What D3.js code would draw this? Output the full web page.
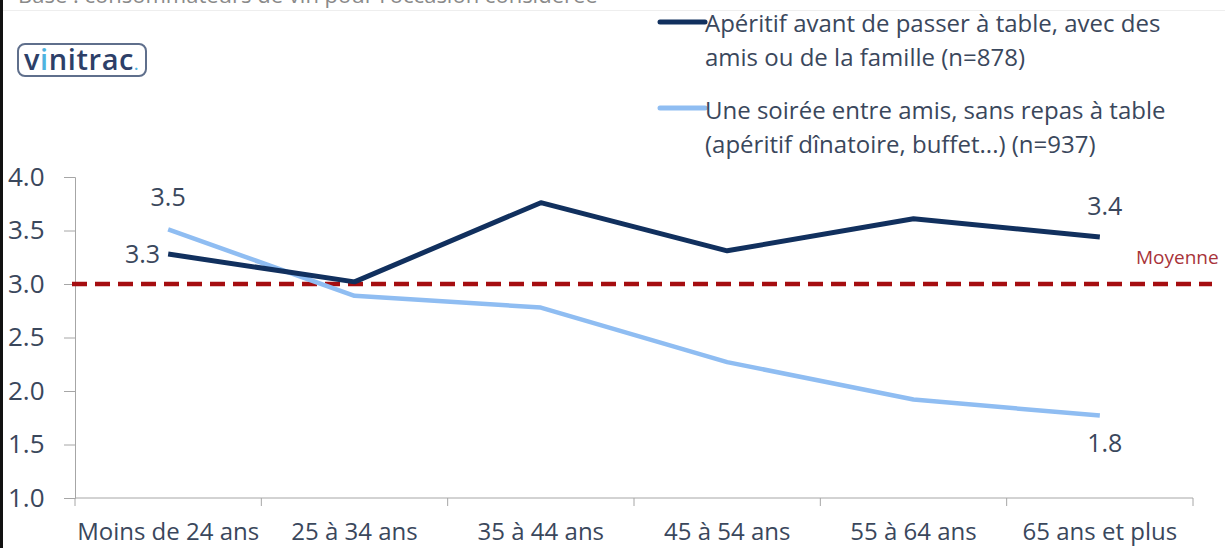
<!DOCTYPE html>
<html>
<head>
<meta charset="utf-8">
<script src="https://cdn.jsdelivr.net/npm/d3@7"></script>
<style>
  html, body { margin: 0; padding: 0; background: #fff; }
  svg { display: block; font-family: "Open Sans", "Noto Sans", sans-serif; }
</style>
</head>
<body>
<svg id="chart" width="1225" height="548"></svg>
<script>
// Age groups on the x axis
const categories = ["Moins de 24 ans", "25 à 34 ans", "35 à 44 ans", "45 à 54 ans", "55 à 64 ans", "65 ans et plus"];

// Mean scores per age group for each drinking occasion
const aperitifValues = [3.28, 3.02, 3.76, 3.31, 3.61, 3.44];
const soireeValues = [3.51, 2.89, 2.78, 2.27, 1.92, 1.77];

const seriesNames = [
  ["Apéritif avant de passer à table, avec des", "amis ou de la famille (n=878)"],
  ["Une soirée entre amis, sans repas à table", "(apéritif dînatoire, buffet...) (n=937)"]
];

const yTicks = [1.0, 1.5, 2.0, 2.5, 3.0, 3.5, 4.0];
const averageValue = 3.0;
const averageLabel = "Moyenne";

const colors = { dark: "#11305e", light: "#8fbdf2", avg: "#a50d10", text: "#3a475c", axis: "#a6a6a6" };

const svg = d3.select("#chart");

// Frame details: left edge bar, heading at the top edge and separator
svg.append("rect").attr("x", 0).attr("y", 0).attr("width", 3).attr("height", 548).attr("fill", "#111");
svg.append("text").attr("x", 18).attr("y", 3).attr("font-size", 22).attr("fill", "#8a8a8a")
  .text("Base : consommateurs de vin pour l'occasion considérée");
svg.append("line").attr("x1", 3).attr("x2", 1225).attr("y1", 10.5).attr("y2", 10.5)
  .attr("stroke", "#eeeeee").attr("stroke-width", 1);

// Logo
const logo = svg.append("g").attr("transform", "translate(18,44)");
logo.append("rect").attr("width", 128).attr("height", 32).attr("rx", 7)
  .attr("fill", "#fff").attr("stroke", "#5f6f8c").attr("stroke-width", 2);
const logoText = logo.append("text").attr("x", 6).attr("y", 26).attr("font-size", 29)
  .attr("font-weight", 600).attr("letter-spacing", 0.6)
  .attr("fill", "#2d3f68").attr("font-family", "'Open Sans', sans-serif");
logoText.append("tspan").text("v");
logoText.append("tspan").attr("fill", "#4fb3df").text("i");
logoText.append("tspan").text("nitrac");
logoText.append("tspan").attr("fill", "#4fb3df").attr("font-size", 16).text(".");

// Scales
const x = d3.scaleBand().domain(categories).range([75, 1193]).padding(0);
const cx = c => x(c) + x.bandwidth() / 2;
const y = d3.scaleLinear().domain([1, 4]).range([498, 177]);

// Y axis
const yAxis = svg.append("g").attr("transform", "translate(75,0)")
  .call(d3.axisLeft(y).tickValues(yTicks).tickFormat(d3.format(".1f")).tickSize(11).tickPadding(16));
yAxis.select(".domain").attr("stroke", colors.axis);
yAxis.selectAll(".tick line").attr("stroke", colors.axis);
yAxis.selectAll(".tick text").attr("font-size", 26).attr("fill", colors.text)
  .attr("font-family", "'Open Sans', sans-serif").attr("text-anchor", "start").attr("x", -67);

// X axis: ticks at band boundaries, labels centred in bands
const xAxis = svg.append("g").attr("transform", "translate(0,498)");
xAxis.append("line").attr("x1", 75).attr("x2", 1193).attr("stroke", colors.axis);
const boundaries = categories.map(c => x(c)).concat([x(categories[categories.length - 1]) + x.bandwidth()]);
xAxis.selectAll("line.tk").data(boundaries).join("line").attr("class", "tk")
  .attr("x1", d => d).attr("x2", d => d).attr("y1", 0).attr("y2", 8).attr("stroke", colors.axis);
xAxis.selectAll("text").data(categories).join("text")
  .attr("x", d => cx(d)).attr("y", 42).attr("text-anchor", "middle")
  .attr("font-size", 24).attr("fill", colors.text).text(d => d);

// Average reference line
svg.append("line").attr("x1", 72).attr("x2", 1212)
  .attr("y1", y(averageValue)).attr("y2", y(averageValue))
  .attr("stroke", colors.avg).attr("stroke-width", 4.5).attr("stroke-dasharray", "15,8");
svg.append("text").attr("x", 1136).attr("y", y(averageValue) - 20)
  .attr("font-size", 19).attr("fill", "#a8333a").text(averageLabel);

// Series lines
const line = d3.line().x((d, i) => cx(categories[i])).y(d => y(d));
svg.append("path").datum(soireeValues).attr("d", line)
  .attr("fill", "none").attr("stroke", colors.light).attr("stroke-width", 4.5).attr("stroke-linejoin", "round");
svg.append("path").datum(aperitifValues).attr("d", line)
  .attr("fill", "none").attr("stroke", colors.dark).attr("stroke-width", 5).attr("stroke-linejoin", "round");

// Data labels on first and last points
const fmt = d3.format(".1f");
const last = categories.length - 1;
const labels = [
  { v: aperitifValues[0], x: cx(categories[0]) - 8, y: y(aperitifValues[0]) + 9, anchor: "end" },
  { v: soireeValues[0], x: cx(categories[0]), y: y(soireeValues[0]) - 23, anchor: "middle" },
  { v: aperitifValues[last], x: cx(categories[last]) + 5, y: y(aperitifValues[last]) - 22, anchor: "middle" },
  { v: soireeValues[last], x: cx(categories[last]) + 5, y: y(soireeValues[last]) + 36, anchor: "middle" }
];
svg.selectAll("text.dl").data(labels).join("text").attr("class", "dl")
  .attr("x", d => d.x).attr("y", d => d.y).attr("text-anchor", d => d.anchor)
  .attr("font-size", 25).attr("fill", colors.text).text(d => fmt(d.v));

// Legend
const legend = svg.append("g");
const legendRows = [
  { color: colors.dark, lineY: 22, baselines: [32, 66], lines: seriesNames[0] },
  { color: colors.light, lineY: 108, baselines: [119, 153], lines: seriesNames[1] }
];
legendRows.forEach(r => {
  legend.append("line").attr("x1", 660).attr("x2", 705).attr("y1", r.lineY).attr("y2", r.lineY)
    .attr("stroke", r.color).attr("stroke-width", 5).attr("stroke-linecap", "round");
  r.lines.forEach((t, i) => {
    legend.append("text").attr("x", 705).attr("y", r.baselines[i])
      .attr("font-size", 24).attr("fill", colors.text).text(t);
  });
});
</script>
</body>
</html>
